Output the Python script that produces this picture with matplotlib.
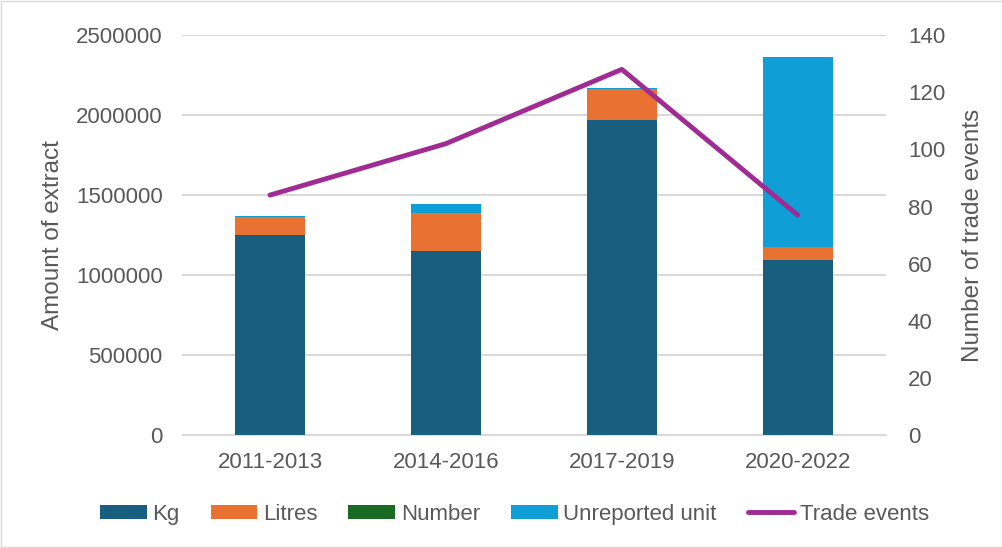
import numpy as np
from matplotlib import pyplot as plt

periods = ['2011-2013', '2014-2016', '2017-2019', '2020-2022']
kg = [1250000, 1150000, 1968000, 1095000]
litres = [115000, 235000, 195000, 82000]
number = [0, 0, 3000, 0]
unreported = [6000, 58000, 4000, 1183000]
trade_events = [84, 102, 128, 77]

gray = '#595959'
plt.rcParams['font.family'] = ['Liberation Sans', 'DejaVu Sans']
plt.rcParams['font.size'] = 16

fig = plt.figure(figsize=(10.03, 5.48), dpi=100)
ax = fig.add_axes([0.1815, 0.206, 0.7015, 0.73])
ax2 = ax.twinx()

x = np.arange(len(periods))
w = 0.4
bottom = np.zeros(len(periods))
series = [(kg, '#175e7f', 'Kg'), (litres, '#e97132', 'Litres'),
          (number, '#196b24', 'Number'), (unreported, '#0f9ed5', 'Unreported unit')]
for vals, col, lab in series:
    ax.bar(x, vals, w, bottom=bottom, color=col, label=lab, zorder=2)
    bottom += np.array(vals)

ax2.plot(x, trade_events, color='#a02b93', lw=3.5, solid_capstyle='round',
         label='Trade events', zorder=3)

ax.set_xlim(-0.5, 3.5)
ax.set_ylim(0, 2500000)
ax.set_yticks(np.arange(0, 2500001, 500000))
ax.yaxis.set_major_formatter(plt.FuncFormatter(lambda v, p: '%d' % v))
ax2.set_ylim(0, 140)
ax2.set_yticks(np.arange(0, 141, 20))
ax.set_xticks(x)
ax.set_xticklabels(periods)
ax.grid(axis='y', color='#d9d9d9', lw=1.5, zorder=0)
ax.set_axisbelow(True)
for a in (ax, ax2):
    for s in a.spines.values():
        s.set_visible(False)
    a.tick_params(length=0, colors=gray, labelsize=16)
ax.spines['bottom'].set_visible(True)
ax.spines['bottom'].set_color('#d9d9d9')
ax.tick_params(axis='x', pad=12)
ax.tick_params(axis='y', pad=14)
ax2.tick_params(axis='y', pad=16)

ax.set_ylabel('Amount of extract', color=gray, fontsize=17.5)
ax2.set_ylabel('Number of trade events', color=gray, fontsize=17.5)
ax.yaxis.set_label_coords(-0.168, 0.5)
ax2.yaxis.set_label_coords(1.109, 0.5)

h1, l1 = ax.get_legend_handles_labels()
h2, l2 = ax2.get_legend_handles_labels()
fig.legend(h1 + h2, l1 + l2, loc='center', bbox_to_anchor=(0.513, 0.062), ncol=5,
           frameon=False, fontsize=16, labelcolor=gray, handlelength=2.1,
           handleheight=0.6, handletextpad=0.25, columnspacing=1.4)

fig.patches.append(plt.Rectangle((0.001, 0.001), 0.998, 0.998, transform=fig.transFigure,
                                 fill=False, edgecolor='#d9d9d9', lw=1))
plt.savefig('out.png')
